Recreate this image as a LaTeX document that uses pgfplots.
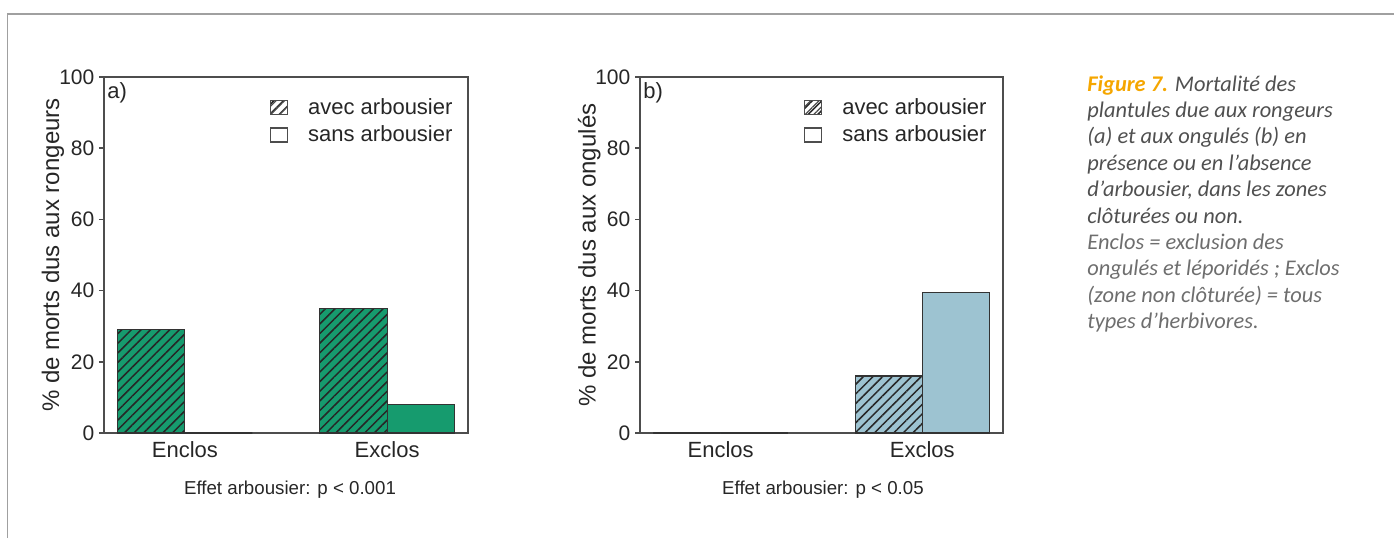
\documentclass[border=0pt]{standalone}
\usepackage{pgfplots}
\pgfplotsset{compat=1.18}
\usetikzlibrary{patterns.meta}
\usepackage{fontspec}
\setmainfont{Liberation Sans}
\newfontfamily\capfont{Carlito}
\definecolor{barGreen}{RGB}{22,155,110}
\definecolor{barBlue}{RGB}{157,195,209}
\definecolor{axGray}{RGB}{77,77,77}
\definecolor{frameGray}{RGB}{160,160,160}
\definecolor{capOrange}{RGB}{245,166,0}
\definecolor{capGray}{RGB}{80,80,80}
\definecolor{capGrayL}{RGB}{110,110,110}

\pgfplotsset{
  mortstyle/.style={
    scale only axis, width=182pt, height=178pt,
    xmin=0.8, xmax=6.2, ymin=0, ymax=100,
    xtick={2,5}, xticklabels={Enclos,Exclos},
    ytick={0,20,40,60,80,100},
    axis line style={axGray, line width=0.75pt},
    every tick/.style={axGray, line width=0.75pt},
    tick align=outside, tickpos=left,
    major tick length=2.5pt,
    x tick style={draw=none},
    /pgf/number format/assume math mode=true,
    yticklabel style={font=\fontsize{10.5}{12}\selectfont, text=black!85, xshift=1.2pt},
    xticklabel style={font=\fontsize{11}{13}\selectfont, text=black!85, yshift=2pt},
    ylabel style={at={(axis description cs:-0.14,0.5)}, anchor=center, font=\fontsize{12}{14}\selectfont, text=black!85},
    legend style={draw=none, fill=none, inner sep=0pt, outer sep=0pt, anchor=north west,
      font=\fontsize{11}{13}\selectfont, text=black!85, row sep=6pt,
      nodes={inner sep=0pt, text height=7pt, text depth=0pt},
      /tikz/every odd column/.append style={column sep=10pt}},
    legend cell align=left,
    clip=false,
  },
  hatchbar/.style={ybar, bar width=1, draw=black!80, line width=0.6pt, fill=#1,
    postaction={pattern={Lines[angle=45,distance=3.4pt,line width=0.75pt]}, pattern color=black!85}},
  plainbar/.style={ybar, bar width=1, draw=black!80, line width=0.6pt, fill=#1},
  hatchleg/.style={legend image code/.code={\draw[axGray, line width=0.6pt, fill=white, postaction={pattern={Lines[angle=45,distance=3pt,line width=0.6pt]}, pattern color=black!70}] (0pt,-3.5pt) rectangle (8.5pt,3.5pt);}},
  plainleg/.style={legend image code/.code={\draw[axGray, line width=0.6pt, fill=white] (0pt,-3.5pt) rectangle (8.5pt,3.5pt);}},
}

\begin{document}
\begin{tikzpicture}
\path[use as bounding box] (0pt,0pt) rectangle (697pt,269pt);
\draw[frameGray, line width=0.75pt] (3.75pt,0pt) -- (3.75pt,262pt) -- (697pt,262pt);

% Panel a
\begin{axis}[mortstyle, at={(52pt,52.5pt)}, anchor=south west,
  ylabel={\% de morts dus aux rongeurs},
  legend style={at={(0.456,0.935)}}]
\addplot[hatchbar=barGreen, bar shift=-0.5, hatchleg] coordinates {(2,29) (5,35)};
\addplot[plainbar=barGreen, bar shift=0.5, plainleg] coordinates {(2,0) (5,8)};
\legend{avec arbousier, sans arbousier}
\node[anchor=west, inner sep=0pt, font=\fontsize{11}{13}\selectfont, text=black!85] at (axis description cs:0.008,0.955) {a)};
\node[font=\fontsize{9.35}{11}\selectfont, text=black!85] at (axis description cs:0.511,-0.16) {Effet arbousier: p < 0.001};
\end{axis}

% Panel b
\begin{axis}[mortstyle, at={(320pt,52.5pt)}, anchor=south west, width=181.5pt,
  ylabel={\% de morts dus aux ongulés},
  legend style={at={(0.452,0.935)}}]
\addplot[hatchbar=barBlue, bar shift=-0.5, hatchleg] coordinates {(2,0) (5,16)};
\addplot[plainbar=barBlue, bar shift=0.5, plainleg] coordinates {(2,0) (5,39.5)};
\legend{avec arbousier, sans arbousier}
\node[anchor=west, inner sep=0pt, font=\fontsize{11}{13}\selectfont, text=black!85] at (axis description cs:0.008,0.955) {b)};
\node[font=\fontsize{9.35}{11}\selectfont, text=black!85] at (axis description cs:0.504,-0.16) {Effet arbousier: p < 0.05};
\end{axis}

% Caption
\begin{scope}[every node/.style={anchor=base west, inner sep=0pt, font=\capfont\itshape\fontsize{11.2}{13.2}\selectfont}]
\node[text=capGray] at (543.5pt,223.5pt) {{\bfseries\color{capOrange}Figure 7.} Mortalité des};
\node[text=capGray] at (543.5pt,210.3pt) {plantules due aux rongeurs};
\node[text=capGray] at (543.5pt,197.1pt) {(a) et aux ongulés (b) en};
\node[text=capGray] at (543.5pt,183.9pt) {présence ou en l’absence};
\node[text=capGray] at (543.5pt,170.7pt) {d’arbousier, dans les zones};
\node[text=capGray] at (543.5pt,157.5pt) {clôturées ou non.};
\node[text=capGrayL] at (543.5pt,144.3pt) {Enclos = exclusion des};
\node[text=capGrayL] at (543.5pt,131.1pt) {ongulés et léporidés ; Exclos};
\node[text=capGrayL] at (543.5pt,117.9pt) {(zone non clôturée) = tous};
\node[text=capGrayL] at (543.5pt,104.7pt) {types d’herbivores.};
\end{scope}
\end{tikzpicture}
\end{document}
